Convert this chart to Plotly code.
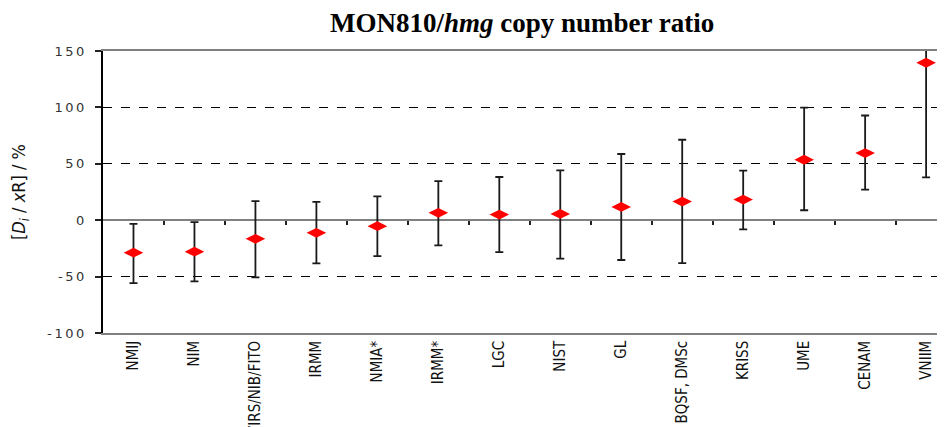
import plotly.graph_objects as go

LABS = ["NMIJ", "NIM", "VIRS/NIB/FITO", "IRMM", "NMIA*", "IRMM*", "LGC", "NIST",
        "GL", "BQSF, DMSc", "KRISS", "UME", "CENAM", "VNIIM"]
VALUE = [-28.8, -27.9, -16.5, -11.2, -5.3, 6.5, 5.0, 5.6, 11.8, 16.5, 18.3, 53.6, 59.5, 139.6]
UPPER = [-3.2, -1.7, 16.9, 16.3, 21.2, 34.6, 38.3, 44.2, 58.7, 71.3, 43.9, 99.8, 92.8, 240.0]
LOWER = [-55.7, -54.3, -50.7, -38.2, -31.8, -22.3, -28.3, -34.1, -35.3, -38.0, -8.2, 8.8, 27.1, 38.0]
Y_TICKS = [-100, -50, 0, 50, 100, 150]
Y_TICK_TEXT = ["-100", "-50", "0", "50", "100", "150"]

xs = list(range(len(LABS)))
err_plus = [u - v for u, v in zip(UPPER, VALUE)]
err_minus = [v - l for v, l in zip(VALUE, LOWER)]

# spread the digits a little, the original tick font is very wide
spaced = ["\u2009".join(t) for t in Y_TICK_TEXT]

TICK_FONT = dict(family="DejaVu Sans", size=13, color="#333333")
NARROW = "Liberation Sans Narrow, DejaVu Sans Condensed, Arial Narrow"
CAT_FONT = dict(family=NARROW, size=15, color="#111111")

fig = go.Figure()

fig.add_trace(go.Scatter(
    x=xs,
    y=VALUE,
    mode="markers",
    marker=dict(symbol="diamond-wide", size=14, color="#ff0000", line=dict(width=0)),
    error_y=dict(type="data", symmetric=False, array=err_plus, arrayminus=err_minus,
                 color="#1a1a1a", thickness=1.8, width=4),
    showlegend=False,
))

# invisible trace to carry the boundary ticks on the zero line
fig.add_trace(go.Scatter(x=[0], y=[0], xaxis="x2", mode="markers",
                         marker=dict(opacity=0), showlegend=False, hoverinfo="skip"))

# page body has an 8px margin, margins below are shifted to make up for it
fig.update_layout(
    width=945,
    height=427,
    margin=dict(l=95, r=8, t=43, b=102),
    paper_bgcolor="white",
    plot_bgcolor="white",
    title=dict(text="<b>MON810/<i>hmg</i> copy number ratio</b>",
               font=dict(family="Liberation Serif, Times New Roman", size=27, color="#000000"),
               x=0.544, xanchor="center", y=0.965, yanchor="middle"),
    xaxis=dict(
        range=[-0.5, 13.31], automargin=False,
        tickmode="array", tickvals=xs, ticktext=LABS,
        tickangle=-90, tickfont=CAT_FONT, ticks="",
        showgrid=False, zeroline=False,
        showline=True, linecolor="#808080", linewidth=1.5, mirror=True,
    ),
    xaxis2=dict(
        overlaying="x", anchor="free", position=0.4, side="bottom",
        range=[-0.5, 13.31], automargin=False,
        tickmode="array", tickvals=[i + 0.5 for i in xs[:-1]],
        ticks="outside", ticklen=4, tickwidth=1.5, tickcolor="#222222",
        showticklabels=False, showgrid=False, zeroline=False, showline=False,
    ),
    yaxis=dict(
        range=[-100, 150], automargin=False,
        tickmode="array", tickvals=Y_TICKS, ticktext=spaced,
        tickfont=TICK_FONT, ticks="outside", ticklen=6, tickwidth=1.5, tickcolor="#222222",
        ticklabelstandoff=8,
        showgrid=True, gridcolor="#000000", gridwidth=1, griddash="dash",
        zeroline=True, zerolinecolor="#808080", zerolinewidth=1.6,
        showline=True, linecolor="#000000", linewidth=2,
        title=dict(text="[<i>D<sub>i</sub></i> / <i>x</i>R] / %",
                   font=dict(family=NARROW, size=18, color="#111111"),
                   standoff=29),
    ),
)

fig.write_html("out.html")
